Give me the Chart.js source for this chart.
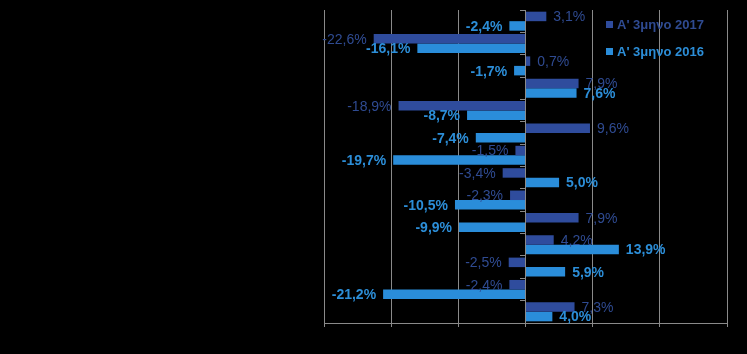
<!DOCTYPE html>
<html>
<head>
<meta charset="utf-8">
<script src="https://cdn.jsdelivr.net/npm/chart.js@4.4.1/dist/chart.umd.min.js"></script>
<style>
  html, body { margin: 0; padding: 0; background: #000; }
  #wrap { width: 747px; height: 354px; }
</style>
</head>
<body>
<div id="wrap"><canvas id="c" width="747" height="354"></canvas></div>
<script>
const categories = ['1','2','3','4','5','6','7','8','9','10','11','12','13','14'];
const seriesNames = ["Α' 3μηνο 2017", "Α' 3μηνο 2016"];
const values2017 = [3.1, -22.6, 0.7, 7.9, -18.9, 9.6, -1.5, -3.4, -2.3, 7.9, 4.2, -2.5, -2.4, 7.3];
const values2016 = [-2.4, -16.1, -1.7, 7.6, -8.7, -7.4, -19.7, 5.0, -10.5, -9.9, 13.9, 5.9, -21.2, 4.0];
const xTicks = [-30, -20, -10, 0, 10, 20, 30];

const GRID = '#8a8a8a';
const DARK = '#2f4c9d';
const LIGHT = '#2a8dda';
const DARK_TXT = '#2f4b92';
const LIGHT_TXT = '#2c8ed8';
const FONT = '"Liberation Sans", Arial, sans-serif';

const fmt = v => v.toFixed(1).replace('.', ',') + '%';

const labelPlugin = {
  id: 'barLabels',
  afterDatasetsDraw(chart) {
    const ctx = chart.ctx;
    ctx.save();
    ctx.textBaseline = 'middle';
    chart.data.datasets.forEach((ds, di) => {
      const meta = chart.getDatasetMeta(di);
      ctx.fillStyle = di === 0 ? DARK_TXT : LIGHT_TXT;
      ctx.font = (di === 0 ? 'normal ' : 'bold ') + '14px ' + FONT;
      meta.data.forEach((el, i) => {
        const v = ds.data[i];
        if (v >= 0) {
          ctx.textAlign = 'left';
          ctx.fillText(fmt(v), el.x + 7, el.y + 1);
        } else {
          ctx.textAlign = 'right';
          ctx.fillText(fmt(v), el.x - 7, el.y + 1);
        }
      });
    });
    ctx.restore();
  }
};

const legendPlugin = {
  id: 'innerLegend',
  afterDraw(chart) {
    const ctx = chart.ctx;
    ctx.save();
    ctx.textBaseline = 'middle';
    ctx.textAlign = 'left';
    ctx.font = 'bold 13px ' + FONT;
    chart.data.datasets.forEach((ds, di) => {
      const y = 24 + di * 27;
      ctx.fillStyle = ds.backgroundColor;
      ctx.fillRect(606, y - 3, 7, 7);
      ctx.fillStyle = di === 0 ? DARK_TXT : LIGHT_TXT;
      ctx.fillText(ds.label, 617, y + 1);
    });
    ctx.restore();
  }
};

new Chart(document.getElementById('c'), {
  type: 'bar',
  data: {
    labels: categories,
    datasets: [
      { label: seriesNames[0], data: values2017, backgroundColor: DARK, categoryPercentage: 0.85, barPercentage: 1.0 },
      { label: seriesNames[1], data: values2016, backgroundColor: LIGHT, categoryPercentage: 0.85, barPercentage: 1.0 }
    ]
  },
  options: {
    indexAxis: 'y',
    responsive: false,
    animation: false,
    layout: { padding: { left: 324, right: 20, top: 10, bottom: 27 } },
    plugins: { legend: { display: false }, tooltip: { enabled: false } },
    scales: {
      x: {
        min: -30, max: 30,
        afterBuildTicks: s => { s.ticks = xTicks.map(v => ({ value: v })); },
        grid: { color: GRID, lineWidth: 1, drawTicks: true, tickLength: 4, tickColor: GRID },
        border: { display: true, color: GRID, width: 1 },
        ticks: { display: false }
      },
      y: {
        position: { x: 0 },
        grid: { drawOnChartArea: false, drawTicks: true, tickLength: 5, tickColor: GRID, offset: true },
        border: { display: true, color: GRID, width: 1 },
        ticks: { display: false }
      }
    }
  },
  plugins: [labelPlugin, legendPlugin]
});
</script>
</body>
</html>
